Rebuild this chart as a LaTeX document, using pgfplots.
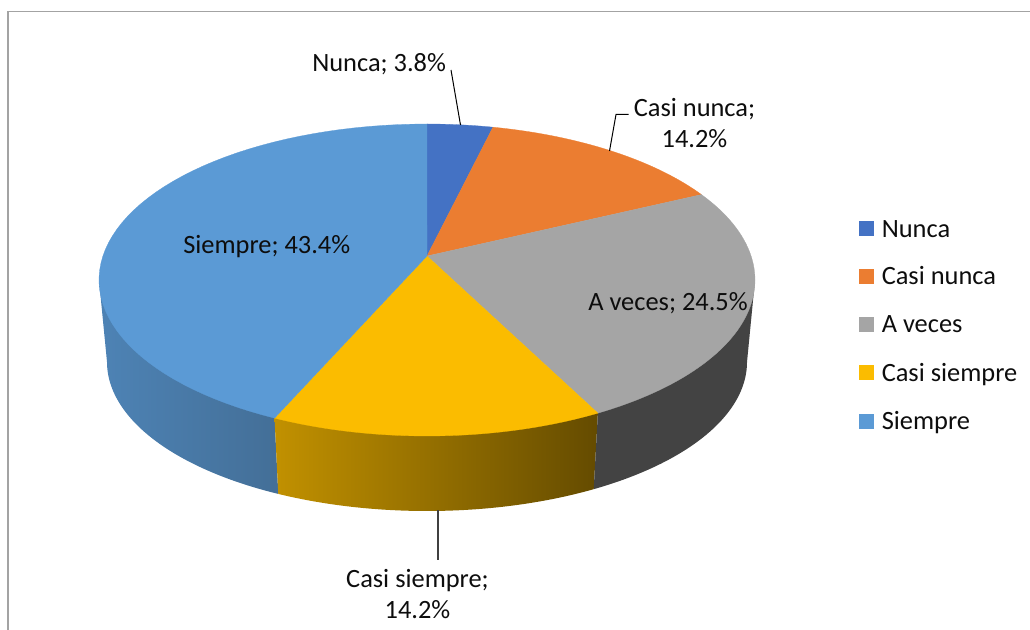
\documentclass[border=0pt]{standalone}
\usepackage{fontspec}
\setmainfont{Carlito}
\usepackage{pgfplots}
\pgfplotsset{compat=1.18}
\definecolor{cNunca}{HTML}{4472C4}
\definecolor{cCasiN}{HTML}{EB7D31}
\definecolor{cVeces}{HTML}{A5A5A5}
\definecolor{cCasiS}{HTML}{FBBC00}
\definecolor{cSiem}{HTML}{5B9AD5}
% top face of a slice: #1 colour, #2 and #3 the angles of its rim
\newcommand{\topface}[3]{%
  \addplot[fill=#1,draw=#1,line width=0.2pt,domain=0:1.016667,samples=62]
    ({x>1.0083 ? 427 : 427+328*cos(#2+(#3-#2)*x)},
     {x>1.0083 ? 256 : 280+156*sin(#2+(#3-#2)*x)}) -- cycle;}
% outer wall of a slice: #1 paint options, #2 and #3 the angles of its rim
\newcommand{\wall}[3]{%
  \addplot[#1,draw=none,domain=-0.016667:1.016667,samples=63]
    ({(x<-0.0083||x>1.0083) ? 427+328*cos(#2+(#3-#2)*min(1,max(0,x))) : 427+320*cos(#2+(#3-#2)*min(1,max(0,x)))},
     {(x<-0.0083||x>1.0083) ? 280+156*sin(#2+(#3-#2)*min(1,max(0,x))) : 362+149*sin(#2+(#3-#2)*min(1,max(0,x)))}) -- cycle;}
\newcommand{\lab}[3]{\node[anchor=base west,inner sep=0pt,text=black!95] at (axis cs:#1,#2) {\fontsize{19.8}{23}\selectfont #3};}
\newcommand{\labc}[3]{\node[anchor=base,inner sep=0pt,text=black!95] at (axis cs:#1,#2) {\fontsize{19.8}{23}\selectfont #3};}
\newcommand{\swatch}[3]{\addplot[fill=#1,draw=none] coordinates {(859,#2) (874,#2) (874,#3) (859,#3)} -- cycle;}
\begin{document}
\begin{tikzpicture}
\begin{axis}[
  width=772.5pt,height=472.5pt,scale only axis,
  xmin=0,xmax=1030,ymin=0,ymax=630,y dir=reverse,
  hide axis,no markers,clip=true]
\path[use as bounding box] (axis cs:0,0) rectangle (axis cs:1030,630);
% frame
\addplot[color=black!36,line width=1.2pt] coordinates {(8,630) (8,11.5) (1030,11.5)};
% walls
\wall{left color=cSiem!85!black,right color=cSiem!70!black!98}{117.7}{180}
\wall{left color=cCasiS!77!black,right color=cCasiS!40!black}{58.6}{117.7}
\wall{fill={rgb,255:red,67;green,67;blue,67}}{0}{58.6}
% top faces
\topface{cNunca}{-90}{-78.4}
\topface{cCasiN}{-78.4}{-33.2}
\topface{cVeces}{-33.2}{58.6}
\topface{cCasiS}{58.6}{117.7}
\topface{cSiem}{117.7}{270}
% leader lines
\addplot[color=black,line width=0.75pt] coordinates {(451,70) (460.5,125)};
\addplot[color=black,line width=0.75pt] coordinates {(628.5,114.5) (616,114.5) (609.5,151)};
\addplot[color=black!75,line width=0.9pt] coordinates {(438,510) (438,560)};
% data labels
\lab{312}{71.5}{Nunca; 3.8\%}
\labc{694.5}{116.5}{Casi nunca;}
\labc{694.5}{147.2}{14.2\%}
\lab{588}{310.5}{A veces; 24.5\%}
\lab{183}{253.5}{Siempre; 43.4\%}
\labc{417.5}{587.5}{Casi siempre;}
\labc{417.5}{618.2}{14.2\%}
% legend
\swatch{cNunca}{221}{236}
\swatch{cCasiN}{269}{284}
\swatch{cVeces}{317}{332}
\swatch{cCasiS}{365}{380}
\swatch{cSiem}{414}{429}
\lab{881.5}{237.5}{Nunca}
\lab{881.5}{284.5}{Casi nunca}
\lab{881.5}{332.5}{A veces}
\lab{881.5}{381}{Casi siempre}
\lab{881.5}{429.5}{Siempre}
\end{axis}
\end{tikzpicture}
\end{document}
